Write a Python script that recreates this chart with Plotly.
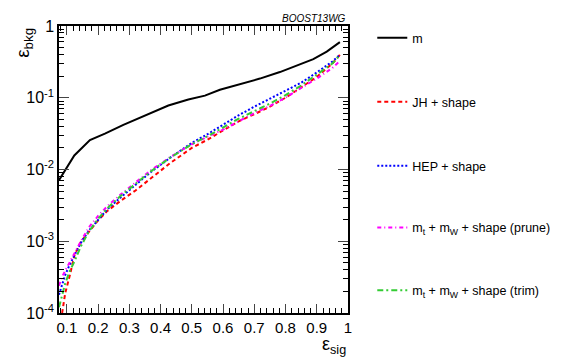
import plotly.graph_objects as go

# signal efficiency grid for the tagger curves
eff_sig = [0.075, 0.085, 0.095, 0.11, 0.125, 0.145, 0.17, 0.2, 0.23, 0.27, 0.32, 0.37,
           0.43, 0.5, 0.55, 0.6, 0.65, 0.7, 0.75, 0.8, 0.85, 0.9, 0.95, 0.975]

bkg_jh = [None, 1.0e-4, 1.9e-4, 3.4e-4, 6.5e-4, 9.8e-4, 1.35e-3, 1.95e-3, 2.65e-3, 3.6e-3, 5.1e-3, 7.6e-3,
          0.0122, 0.0200, 0.026, 0.035, 0.047, 0.059, 0.075, 0.100, 0.140, 0.195, 0.30, 0.40]
bkg_hep = [1.8e-4, 2.5e-4, 3.4e-4, 4.8e-4, 6.4e-4, 9.5e-4, 1.4e-3, 2.0e-3, 2.8e-3, 4.0e-3, 6.1e-3, 9.3e-3,
           0.0145, 0.0235, 0.031, 0.042, 0.057, 0.075, 0.097, 0.125, 0.162, 0.225, 0.32, 0.40]
bkg_prune = [2.4e-4, 3.2e-4, 3.9e-4, 5.2e-4, 7.0e-4, 1.0e-3, 1.55e-3, 2.25e-3, 3.1e-3, 4.4e-3, 6.6e-3, 9.8e-3,
             0.0148, 0.0225, 0.0285, 0.036, 0.047, 0.061, 0.077, 0.10, 0.137, 0.185, 0.26, 0.33]
bkg_trim = [1.2e-4, 1.8e-4, 2.6e-4, 3.9e-4, 5.3e-4, 8.5e-4, 1.35e-3, 2.05e-3, 2.9e-3, 4.2e-3, 6.3e-3, 9.5e-3,
            0.0145, 0.0225, 0.029, 0.038, 0.051, 0.065, 0.083, 0.109, 0.148, 0.21, 0.30, 0.40]

# mass-only curve
eff_sig_m = [0.075, 0.124, 0.174, 0.222, 0.281, 0.329, 0.372, 0.425, 0.489, 0.542, 0.59, 0.654,
             0.718, 0.782, 0.836, 0.889, 0.932, 0.974]
bkg_m = [0.0071, 0.0157, 0.0257, 0.0316, 0.0419, 0.0515, 0.0635, 0.078, 0.0944, 0.107, 0.129, 0.154,
         0.185, 0.228, 0.281, 0.346, 0.44, 0.596]

x_ticks = [0.1, 0.2, 0.3, 0.4, 0.5, 0.6, 0.7, 0.8, 0.9, 1.0]
x_labels = ["0.1", "0.2", "0.3", "0.4", "0.5", "0.6", "0.7", "0.8", "0.9", "1"]
y_ticks = [1e-4, 1e-3, 1e-2, 1e-1, 1]
y_labels = ["10<sup>-4</sup>", "10<sup>-3</sup>", "10<sup>-2</sup>", "10<sup>-1</sup>", "1"]
y_minor = [m * 10.0 ** e for e in range(-4, 0) for m in range(2, 10)]

series = [
    ("m", eff_sig_m, bkg_m, "black", "solid"),
    ("JH + shape", eff_sig, bkg_jh, "#ff0000", "4px,3px"),
    ("HEP + shape", eff_sig, bkg_hep, "#0000ff", "2px,2px"),
    ("m<sub>t</sub> + m<sub>W</sub> + shape (prune)", eff_sig, bkg_prune, "#ff00ff", "4px,3px,1px,3px"),
    ("m<sub>t</sub> + m<sub>W</sub> + shape (trim)", eff_sig, bkg_trim, "#33cc33", "6px,3px,2px,3px"),
]

fig = go.Figure()
legend_names = ["legend", "legend2", "legend3", "legend4", "legend5"]
legend_y = [0.958, 0.735, 0.512, 0.297, 0.078]
for i, (name, xs, ys, col, dash) in enumerate(series):
    fig.add_trace(go.Scatter(x=xs, y=ys, mode="lines", name=name, legend=legend_names[i],
                             line=dict(color=col, dash=dash, width=2)))

layout_legends = {}
for ln, ly in zip(legend_names, legend_y):
    layout_legends[ln] = dict(x=1.084, y=ly, xanchor="left", yanchor="middle",
                              bgcolor="rgba(0,0,0,0)", font=dict(size=12.5, color="black"),
                              itemwidth=30)
fig.update_layout(**layout_legends)

# page body adds an 8px offset, so the figure is drawn 8px smaller with shifted margins
fig.update_layout(
    width=557, height=352,
    margin=dict(l=51, r=217, t=10, b=47),
    paper_bgcolor="white", plot_bgcolor="white",
    font=dict(family="Liberation Sans, Arial, sans-serif", color="black"),
    showlegend=True,
)
fig.update_xaxes(range=[0.075, 1.0], tickvals=x_ticks, ticktext=x_labels,
                 ticks="inside", ticklen=9, tickwidth=1, mirror="allticks",
                 showline=True, linecolor="black", linewidth=1.5, showgrid=False, zeroline=False,
                 tickfont=dict(size=15),
                 minor=dict(dtick=0.02, ticks="inside", ticklen=5, tickcolor="black", showgrid=False))
fig.update_yaxes(type="log", range=[-4, 0], tickvals=y_ticks, ticktext=y_labels,
                 ticks="inside", ticklen=10, tickwidth=1, mirror="allticks",
                 showline=True, linecolor="black", linewidth=1.5, showgrid=False, zeroline=False,
                 tickfont=dict(size=16),
                 minor=dict(tickvals=y_minor, ticks="inside", ticklen=5, tickcolor="black", showgrid=False))

fig.add_annotation(text="ε<sub>bkg</sub>", xref="paper", yref="paper", x=-0.17, y=1.0,
                   xanchor="left", yanchor="top", textangle=-90, showarrow=False,
                   font=dict(size=19))
fig.add_annotation(text="ε<sub>sig</sub>", xref="paper", yref="paper", x=1.0, y=-0.16,
                   xanchor="right", yanchor="bottom", showarrow=False, font=dict(size=18))
fig.add_annotation(text="<i>BOOST13WG</i>", xref="paper", yref="paper", x=1.0, y=1.0,
                   xanchor="right", yanchor="bottom", showarrow=False, font=dict(size=10))

fig.write_html("out.html")
